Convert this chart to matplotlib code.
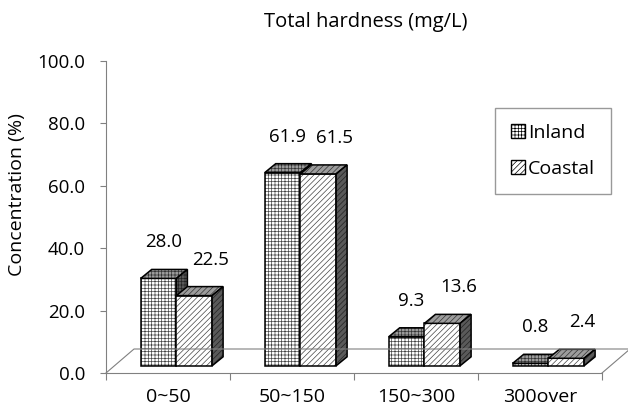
import numpy as np
import matplotlib
matplotlib.use('Agg')
import matplotlib.pyplot as plt
from matplotlib.patches import Polygon, Patch

categories = ['0~50', '50~150', '150~300', '300over']
inland = [28.0, 61.9, 9.3, 0.8]
coastal = [22.5, 61.5, 13.6, 2.4]
series_names = ['Inland', 'Coastal']
y_ticks = [0, 20, 40, 60, 80, 100]

plt.rcParams['font.family'] = ['Open Sans', 'DejaVu Sans']
plt.rcParams['hatch.linewidth'] = 0.5

W, H = 628, 411
fig = plt.figure(figsize=(W / 100, H / 100), dpi=100)
# plot box in pixels: x 106..602, y 61..373
ax = fig.add_axes([106 / W, 1 - 373 / H, 496 / W, 312 / H])
ax.set_xlim(0, 4)
ax.set_ylim(0, 100)

px_x = 496 / 4.0     # pixels per category
px_y = 312 / 100.0   # pixels per unit
DX, DY = 28 / px_x, 24 / px_y          # floor depth
fx, fy = 0.3 * DX, 0.3 * DY            # bar front plane
bdx, bdy = 11 / px_x, 9 / px_y         # bar depth
w = 35.7 / px_x

gray = '#808080'
# floor
ax.plot([0, DX, 4 + DX, 4], [0, DY, DY, 0], color=gray, lw=0.8, clip_on=False)

styles = [
    dict(hatch='+++++', front='white', top='#9c9c9c', side='#5a5a5a'),
    dict(hatch='//////', front='white', top='#9c9c9c', side='#5a5a5a'),
]

def face(pts, fc, hatch, hc):
    ax.add_patch(Polygon(pts, facecolor=fc, edgecolor=hc, lw=0, hatch=hatch, clip_on=False))
    ax.add_patch(Polygon(pts, fill=False, edgecolor='black', lw=1.1, clip_on=False))

def bar3d(x0, v, st):
    face([(x0, fy), (x0 + w, fy), (x0 + w, fy + v), (x0, fy + v)],
         st['front'], st['hatch'], '#444444')
    face([(x0, fy + v), (x0 + w, fy + v), (x0 + w + bdx, fy + v + bdy),
          (x0 + bdx, fy + v + bdy)], st['top'], st['hatch'], '#333333')
    face([(x0 + w, fy), (x0 + w + bdx, fy + bdy), (x0 + w + bdx, fy + v + bdy),
          (x0 + w, fy + v)], st['side'], st['hatch'], '#222222')

label_dx = [5 / px_x, 16 / px_x]
label_dy = 36 / px_y
for i in range(len(categories)):
    for j, vals in enumerate([inland, coastal]):
        x0 = i + 0.5 - w + j * w + fx
        bar3d(x0, vals[i], styles[j])
        ax.text(x0 + w / 2 + label_dx[j], fy + vals[i] + label_dy, '%.1f' % vals[i],
                ha='center', va='center', fontsize=13.5)

ax.set_xticks(np.arange(0, 5))
ax.set_xticklabels([])
ax.set_xticks(np.arange(len(categories)) + 0.5, minor=True)
ax.set_xticklabels(categories, minor=True, fontsize=14)
ax.tick_params(axis='x', which='minor', length=0, pad=11)
ax.tick_params(axis='x', which='major', length=5, color=gray, direction='out')
ax.set_yticks(y_ticks)
ax.set_yticklabels(['%.1f' % t for t in y_ticks], fontsize=13.5)
ax.tick_params(axis='y', length=4, color=gray, pad=11)

for s in ['top', 'right']:
    ax.spines[s].set_visible(False)
for s in ['left', 'bottom']:
    ax.spines[s].set_color(gray)
    ax.spines[s].set_linewidth(0.8)

fig.text(17 / W, 1 - 195 / H, 'Concentration (%)', rotation=90,
         ha='center', va='center', fontsize=14)
fig.text(366 / W, 1 - 22 / H, 'Total hardness (mg/L)', ha='center', va='center', fontsize=14.5)

handles = [Patch(facecolor='white', edgecolor='black', hatch=styles[k]['hatch'], lw=1.0)
           for k in range(2)]
leg = fig.legend(handles, series_names, loc='upper left',
                 bbox_to_anchor=(495 / W, 1 - 108 / H), bbox_transform=fig.transFigure,
                 borderaxespad=0, fancybox=False, frameon=True, fontsize=14,
                 handlelength=0.75, handleheight=0.75, handletextpad=0.15,
                 labelspacing=0.95, borderpad=0.8)
leg.get_frame().set_edgecolor(gray)
leg.get_frame().set_linewidth(1.0)

fig.savefig('out.png', dpi=100)
